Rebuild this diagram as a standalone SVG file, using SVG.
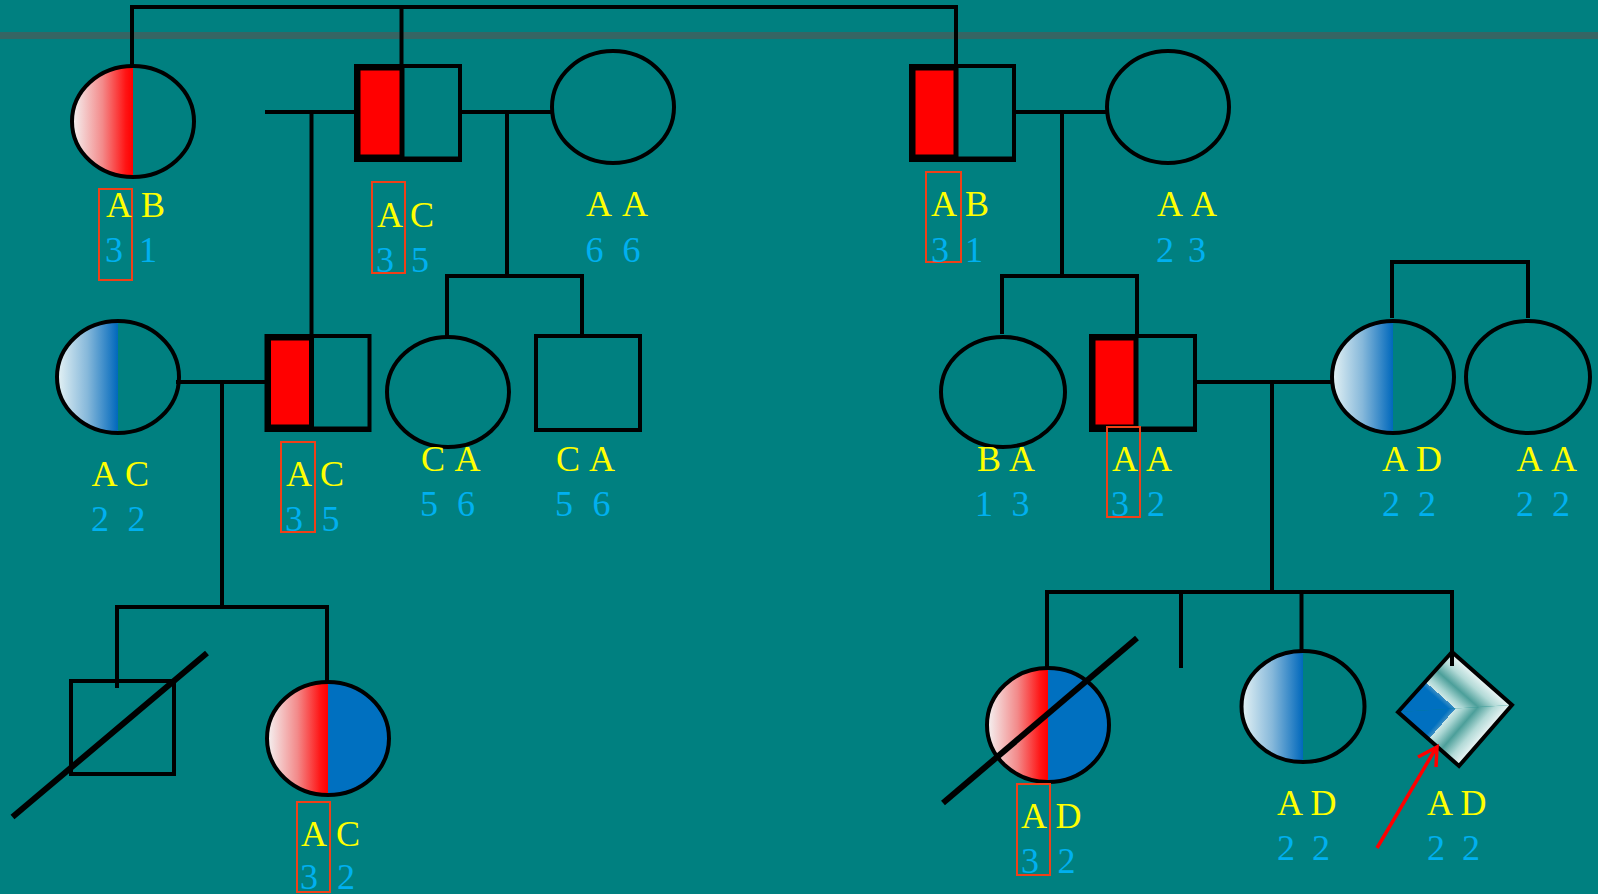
<svg xmlns="http://www.w3.org/2000/svg" width="1598" height="894" viewBox="0 0 1598 894">
<defs>
<linearGradient id="gr" x1="0" y1="0" x2="1" y2="0">
<stop offset="0" stop-color="#f4f4f4"/><stop offset="0.5" stop-color="#f38a8a"/><stop offset="0.88" stop-color="#ff1414"/><stop offset="1" stop-color="#ff0000"/>
</linearGradient>
<linearGradient id="gb" x1="0" y1="0" x2="1" y2="0">
<stop offset="0" stop-color="#e6f3f5"/><stop offset="0.5" stop-color="#86b8da"/><stop offset="1" stop-color="#0068bc"/>
</linearGradient>
<linearGradient id="du" gradientUnits="userSpaceOnUse" x1="1482" y1="678.5" x2="1429" y2="738.5">
<stop offset="0" stop-color="#eef7f7"/><stop offset="0.15" stop-color="#b3dad7"/><stop offset="0.3" stop-color="#4c9f9a"/><stop offset="0.43" stop-color="#a8d5d2"/><stop offset="0.5" stop-color="#cfe9e7"/><stop offset="0.5" stop-color="#3c8fc4"/><stop offset="0.56" stop-color="#0070c0"/><stop offset="1" stop-color="#0070c0"/>
</linearGradient>
<linearGradient id="dl" gradientUnits="userSpaceOnUse" x1="1485.5" y1="735.5" x2="1424.5" y2="682.5">
<stop offset="0" stop-color="#eef7f7"/><stop offset="0.15" stop-color="#b3dad7"/><stop offset="0.3" stop-color="#4c9f9a"/><stop offset="0.43" stop-color="#a8d5d2"/><stop offset="0.5" stop-color="#cfe9e7"/><stop offset="0.5" stop-color="#3c8fc4"/><stop offset="0.56" stop-color="#0070c0"/><stop offset="1" stop-color="#0070c0"/>
</linearGradient>
</defs>
<style>
.ln{stroke:#000;stroke-width:4;fill:none;stroke-linecap:square}
.sh{stroke:#000;stroke-width:4;fill:none}
.red{fill:#ff0000;stroke:#000;stroke-width:5}
.sl{stroke:#000;stroke-width:6;fill:none}
.t{font-family:"Liberation Serif","Times New Roman",serif;font-size:36px}
.y{fill:#ffff00}
.c{fill:#00b0f0}
.bx{fill:none;stroke:#f04018;stroke-width:2}
</style>
<rect x="0" y="0" width="1598" height="894" fill="#008080"/>
<rect x="0" y="32" width="1598" height="7" fill="#366563"/>

<g id="connectors">
<polyline class="ln" points="132,66 132,7 956,7 956,66"/>
<line class="ln" x1="401.5" y1="7" x2="401.5" y2="66"/>
<line class="ln" x1="267" y1="112" x2="356" y2="112"/>
<line class="ln" x1="311.5" y1="112" x2="311.5" y2="336"/>
<line class="ln" x1="460" y1="112" x2="552" y2="112"/>
<line class="ln" x1="507" y1="112" x2="507" y2="276"/>
<line class="ln" x1="448" y1="276" x2="582" y2="276"/>
<line class="ln" x1="447" y1="276" x2="447" y2="334"/>
<line class="ln" x1="582" y1="276" x2="582" y2="333"/>
<line class="ln" x1="1014" y1="112" x2="1107" y2="112"/>
<line class="ln" x1="1062" y1="112" x2="1062" y2="276"/>
<line class="ln" x1="1002" y1="276" x2="1137" y2="276"/>
<line class="ln" x1="1002" y1="276" x2="1002" y2="332"/>
<line class="ln" x1="1137" y1="276" x2="1137" y2="334"/>
<line class="ln" x1="1392" y1="262" x2="1528" y2="262"/>
<line class="ln" x1="1392" y1="262" x2="1392" y2="316"/>
<line class="ln" x1="1528" y1="262" x2="1528" y2="316"/>
<line class="ln" x1="178" y1="382" x2="266" y2="382"/>
<line class="ln" x1="222" y1="382" x2="222" y2="607"/>
<line class="ln" x1="117" y1="607" x2="327" y2="607"/>
<line class="ln" x1="117" y1="607" x2="117" y2="686"/>
<line class="ln" x1="327" y1="607" x2="327" y2="686"/>
<line class="ln" x1="1195" y1="382" x2="1332" y2="382"/>
<line class="ln" x1="1272" y1="382" x2="1272" y2="592"/>
<line class="ln" x1="1047" y1="592" x2="1452" y2="592"/>
<line class="ln" x1="1047" y1="592" x2="1047" y2="668"/>
<line class="ln" x1="1181" y1="592" x2="1181" y2="666"/>
<line class="ln" x1="1301.5" y1="592" x2="1301.5" y2="651"/>
<line class="ln" x1="1452" y1="592" x2="1452" y2="666"/>
</g>

<g id="I1">
<path d="M133,66 A61,55.5 0 0 0 133,177 Z" fill="url(#gr)"/>
<ellipse class="sh" cx="133" cy="121.5" rx="61" ry="55.5"/>
<rect class="bx" x="99" y="189" width="33" height="91"/>
<text class="t y" y="217"><tspan x="106">A</tspan> <tspan x="141">B</tspan></text>
<text class="t c" y="262"><tspan x="105">3</tspan> <tspan x="139">1</tspan></text>
</g>

<g id="I2">
<rect class="sh" x="356" y="66" width="104" height="94"/>
<rect class="red" x="358" y="68" width="44" height="89"/>
<line x1="356" y1="159" x2="460" y2="159" stroke="#000" stroke-width="5"/>
<rect class="bx" x="372" y="182" width="33" height="91"/>
<text class="t y" y="227"><tspan x="377">A</tspan> <tspan x="410">C</tspan></text>
<text class="t c" y="272"><tspan x="376">3</tspan> <tspan x="411">5</tspan></text>
</g>

<g id="I3">
<ellipse class="sh" cx="613" cy="107" rx="61" ry="56"/>
<text class="t y" y="216"><tspan x="586">A</tspan> <tspan x="622">A</tspan></text>
<text class="t c" y="262"><tspan x="585.5">6</tspan> <tspan x="622.5">6</tspan></text>
</g>

<g id="I4">
<rect class="sh" x="911" y="66" width="103" height="94"/>
<rect class="red" x="913" y="68" width="43" height="89"/>
<line x1="911" y1="159" x2="1014" y2="159" stroke="#000" stroke-width="5"/>
<rect class="bx" x="926" y="172" width="35" height="90"/>
<text class="t y" y="216"><tspan x="931">A</tspan> <tspan x="965">B</tspan></text>
<text class="t c" y="262"><tspan x="931">3</tspan> <tspan x="965">1</tspan></text>
</g>

<g id="I5">
<ellipse class="sh" cx="1168" cy="107" rx="61" ry="56"/>
<text class="t y" y="216"><tspan x="1157">A</tspan> <tspan x="1191">A</tspan></text>
<text class="t c" y="262"><tspan x="1156">2</tspan> <tspan x="1188">3</tspan></text>
</g>

<g id="II1">
<path d="M118,321 A61,56 0 0 0 118,433 Z" fill="url(#gb)"/>
<ellipse class="sh" cx="118" cy="377" rx="61" ry="56"/>
<text class="t y" y="486"><tspan x="91.5">A</tspan> <tspan x="125">C</tspan></text>
<text class="t c" y="531"><tspan x="91">2</tspan> <tspan x="127.5">2</tspan></text>
</g>

<g id="II2">
<rect class="sh" x="266.5" y="336" width="103" height="94"/>
<rect class="red" x="268.5" y="338" width="43" height="89"/>
<line x1="266.5" y1="429" x2="369.5" y2="429" stroke="#000" stroke-width="5"/>
<rect class="bx" x="281" y="442" width="34" height="90"/>
<text class="t y" y="486"><tspan x="286">A</tspan> <tspan x="320">C</tspan></text>
<text class="t c" y="531"><tspan x="285">3</tspan> <tspan x="321.5">5</tspan></text>
</g>

<g id="II3">
<ellipse class="sh" cx="448" cy="392" rx="61" ry="55"/>
<text class="t y" y="471"><tspan x="421">C</tspan> <tspan x="454.5">A</tspan></text>
<text class="t c" y="516"><tspan x="420">5</tspan> <tspan x="457">6</tspan></text>
</g>

<g id="II4">
<rect class="sh" x="536" y="336" width="104" height="94"/>
<text class="t y" y="471"><tspan x="556">C</tspan> <tspan x="589">A</tspan></text>
<text class="t c" y="516"><tspan x="555">5</tspan> <tspan x="592.5">6</tspan></text>
</g>

<g id="II5">
<ellipse class="sh" cx="1003" cy="392" rx="62" ry="55"/>
<text class="t y" y="471"><tspan x="977">B</tspan> <tspan x="1009">A</tspan></text>
<text class="t c" y="516"><tspan x="975">1</tspan> <tspan x="1011.5">3</tspan></text>
</g>

<g id="II6">
<rect class="sh" x="1091" y="336" width="104" height="94"/>
<rect class="red" x="1093" y="338" width="43" height="89"/>
<line x1="1091" y1="429" x2="1195" y2="429" stroke="#000" stroke-width="5"/>
<rect class="bx" x="1107" y="427" width="33" height="90"/>
<text class="t y" y="471"><tspan x="1112">A</tspan> <tspan x="1146">A</tspan></text>
<text class="t c" y="516"><tspan x="1111">3</tspan> <tspan x="1147">2</tspan></text>
</g>

<g id="II7">
<path d="M1393,321 A61,56 0 0 0 1393,433 Z" fill="url(#gb)"/>
<ellipse class="sh" cx="1393" cy="377" rx="61" ry="56"/>
<text class="t y" y="471"><tspan x="1382">A</tspan> <tspan x="1416">D</tspan></text>
<text class="t c" y="516"><tspan x="1382">2</tspan> <tspan x="1418">2</tspan></text>
</g>

<g id="II8">
<ellipse class="sh" cx="1528" cy="377" rx="62" ry="56"/>
<text class="t y" y="471"><tspan x="1516.5">A</tspan> <tspan x="1551">A</tspan></text>
<text class="t c" y="516"><tspan x="1516">2</tspan> <tspan x="1552">2</tspan></text>
</g>

<g id="III1">
<rect class="sh" x="71" y="681" width="103" height="93"/>
<line class="sl" x1="12.5" y1="817" x2="207" y2="653"/>
</g>

<g id="III2">
<path d="M328,682 A61,56.5 0 0 0 328,795 Z" fill="url(#gr)"/>
<path d="M328,682 A61,56.5 0 0 1 328,795 Z" fill="#0070c0"/>
<ellipse class="sh" cx="328" cy="738.5" rx="61" ry="56.5"/>
<rect class="bx" x="297" y="802" width="33" height="90"/>
<text class="t y" y="846"><tspan x="301">A</tspan> <tspan x="336">C</tspan></text>
<text class="t c" y="889"><tspan x="300">3</tspan> <tspan x="337">2</tspan></text>
</g>

<g id="III3">
<path d="M1048,668 A61,57 0 0 0 1048,782 Z" fill="url(#gr)"/>
<path d="M1048,668 A61,57 0 0 1 1048,782 Z" fill="#0070c0"/>
<ellipse class="sh" cx="1048" cy="725" rx="61" ry="57"/>
<line class="sl" x1="943" y1="803" x2="1137" y2="638"/>
<rect class="bx" x="1017" y="784" width="33" height="91"/>
<text class="t y" y="828"><tspan x="1021">A</tspan> <tspan x="1055.5">D</tspan></text>
<text class="t c" y="873"><tspan x="1021">3</tspan> <tspan x="1057.5">2</tspan></text>
</g>

<g id="III4">
<path d="M1303,651 A61.5,55.5 0 0 0 1303,762 Z" fill="url(#gb)"/>
<ellipse class="sh" cx="1303" cy="706.5" rx="61.5" ry="55.5"/>
<text class="t y" y="815"><tspan x="1277">A</tspan> <tspan x="1310.5">D</tspan></text>
<text class="t c" y="860"><tspan x="1277">2</tspan> <tspan x="1312">2</tspan></text>
</g>

<g id="III5">
<polygon points="1398,712 1452,652 1512,705" fill="url(#du)"/>
<polygon points="1398,712 1512,705 1459,766" fill="url(#dl)"/>
<polygon class="sh" points="1452,652 1512,705 1459,766 1398,712"/>
<line x1="1452" y1="652" x2="1452" y2="666" stroke="#000" stroke-width="4"/>
<text class="t y" y="815"><tspan x="1427">A</tspan> <tspan x="1460.5">D</tspan></text>
<text class="t c" y="860"><tspan x="1427">2</tspan> <tspan x="1462">2</tspan></text>
</g>

<g id="arrow">
<line x1="1377" y1="848" x2="1436" y2="748" stroke="#ff0000" stroke-width="3.5"/>
<polyline points="1418,757 1437,747 1436,767" fill="none" stroke="#ff0000" stroke-width="3.5"/>
</g>
</svg>
